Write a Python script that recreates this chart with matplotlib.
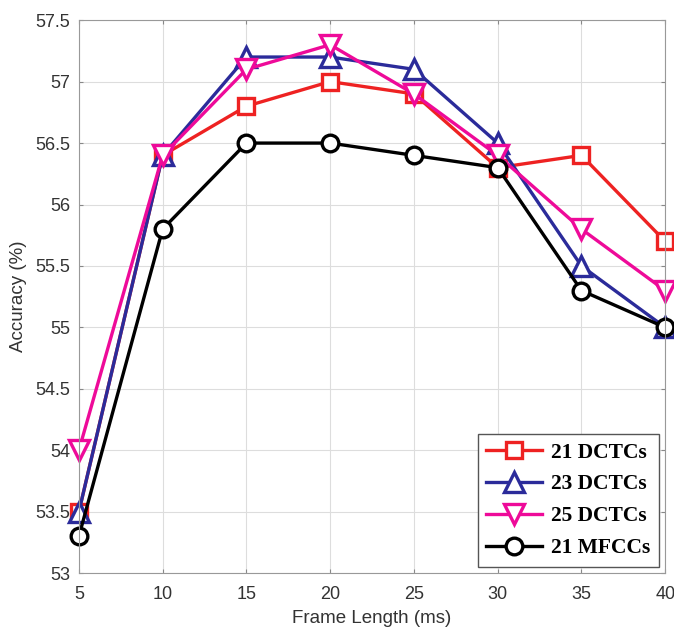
import matplotlib
matplotlib.use("Agg")
import matplotlib.pyplot as plt
from matplotlib.ticker import FuncFormatter

# frame length (ms) vs accuracy (%)
frame_len = [5, 10, 15, 20, 25, 30, 35, 40]
dctc21 = [53.5, 56.4, 56.8, 57.0, 56.9, 56.3, 56.4, 55.7]
dctc23 = [53.5, 56.4, 57.2, 57.2, 57.1, 56.5, 55.5, 55.0]
dctc25 = [54.0, 56.4, 57.1, 57.3, 56.9, 56.4, 55.8, 55.3]
mfcc21 = [53.3, 55.8, 56.5, 56.5, 56.4, 56.3, 55.3, 55.0]

fig = plt.figure(figsize=(6.74, 6.3), dpi=100)
ax = fig.add_axes([0.117, 0.09, 0.870, 0.878])

common = dict(lw=2.4, mew=2.4, mfc="white", clip_on=False)
ax.plot(frame_len, dctc21, color="#ee2222", marker="s", ms=11, label="21 DCTCs", **common)
ax.plot(frame_len, dctc23, color="#2b2b9a", marker="^", ms=15, label="23 DCTCs", **common)
ax.plot(frame_len, dctc25, color="#ee0a99", marker="v", ms=15, label="25 DCTCs", **common)
ax.plot(frame_len, mfcc21, color="black", marker="o", ms=12, label="21 MFCCs", **common)

ax.set_xlim(5, 40)
ax.set_ylim(53, 57.5)
ax.set_xticks(frame_len)
ax.set_yticks([53 + 0.5 * i for i in range(10)])
ax.yaxis.set_major_formatter(FuncFormatter(lambda v, p: "%g" % v))
ax.grid(True, color="#dddddd", lw=0.8)
ax.set_axisbelow(True)
ax.tick_params(direction="in", length=3, top=True, right=True,
               labelsize=13, colors="#888888", labelcolor="#333333", pad=6)
ax.tick_params(axis="x", pad=9)
for s in ax.spines.values():
    s.set_color("#999999")

ax.set_xlabel("Frame Length (ms)", fontsize=13.5, color="#333333", labelpad=5)
ax.set_ylabel("Accuracy (%)", fontsize=13.5, color="#333333", labelpad=6)
for t in ax.get_xticklabels() + ax.get_yticklabels():
    t.set_family("Liberation Sans")
ax.xaxis.label.set_family("Liberation Sans")
ax.yaxis.label.set_family("Liberation Sans")

leg = ax.legend(loc="lower right", prop={"family": "Liberation Serif", "weight": "bold", "size": 15.5},
                handlelength=2.6, fancybox=False, framealpha=1, borderaxespad=0.3,
                labelspacing=0.55, handletextpad=0.4, borderpad=0.4)
leg.get_frame().set_edgecolor("#555555")
leg.get_frame().set_linewidth(1.0)

fig.savefig("out.png", dpi=100)
